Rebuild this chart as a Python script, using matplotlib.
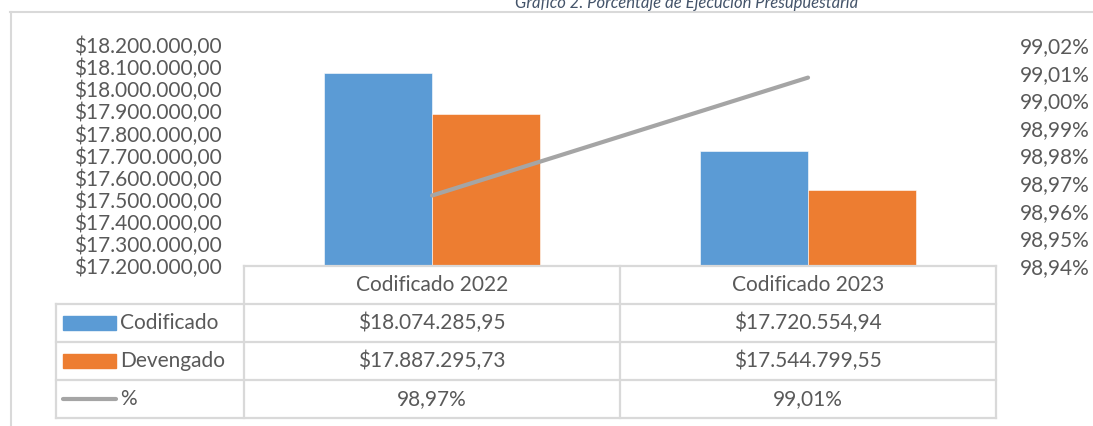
import matplotlib
matplotlib.use("Agg")
import matplotlib.pyplot as plt
import matplotlib.patches as mpatches
import numpy as np

plt.rcParams["font.family"] = ["Lato", "DejaVu Sans"]

# Datos
categorias = ["Codificado 2022", "Codificado 2023"]
codificado = [18074285.95, 17720554.94]
devengado = [17887295.73, 17544799.55]
porcentaje = [98.9655, 99.0082]
series = ["Codificado", "Devengado", "%"]
titulo = "Gráfico 2. Porcentaje de Ejecución Presupuestaria"

# Colores
AZUL = "#5B9BD5"
NARANJA = "#ED7D31"
GRIS = "#A5A5A5"
TEXTO = "#595959"
BORDE = "#D9D9D9"

W, H = 1093, 426
FS = 15


def dinero(v):
    s = f"{v:,.2f}".replace(",", "X").replace(".", ",").replace("X", ".")
    return "$" + s


def pct(v):
    return f"{v:.2f}".replace(".", ",") + "%"


fig = plt.figure(figsize=(W / 100, H / 100), dpi=100)

# area del grafico (en pixeles de la imagen)
x0, x1, y0, y1 = 244, 996, 45, 266
ax = fig.add_axes([x0 / W, 1 - y1 / H, (x1 - x0) / W, (y1 - y0) / H])

x = np.arange(len(categorias))
ancho = 0.287
ax.bar(x - ancho / 2, codificado, ancho, color=AZUL, edgecolor="white", linewidth=0.4)
ax.bar(x + ancho / 2, devengado, ancho, color=NARANJA, edgecolor="white", linewidth=0.4)
ax.set_xlim(-0.5, len(categorias) - 0.5)
ax.set_ylim(17.2e6, 18.2e6)
ax.set_yticks(np.arange(17.2e6, 18.2e6 + 1, 1e5))
ax.set_yticklabels([dinero(v) for v in ax.get_yticks()])
ax.set_xticks([])
ax.tick_params(axis="y", length=0, pad=16, labelsize=FS, labelcolor=TEXTO)
for s in ax.spines.values():
    s.set_visible(False)

ax2 = ax.twinx()
ax2.plot(x, porcentaje, color=GRIS, lw=3.0, solid_capstyle="round")
ax2.set_ylim(98.94, 99.02)
ax2.set_yticks(np.linspace(98.94, 99.02, 9))
ax2.set_yticklabels([pct(v) for v in ax2.get_yticks()])
ax2.tick_params(axis="y", length=0, pad=17, labelsize=FS, labelcolor=TEXTO)
for s in ax2.spines.values():
    s.set_visible(False)

# capa en pixeles para tabla, borde y titulo
tab = fig.add_axes([0, 0, 1, 1])
tab.set_xlim(0, W)
tab.set_ylim(H, 0)
tab.axis("off")

# borde del area del grafico
tab.plot([10.5, 10.5], [12, H], color=BORDE, lw=1.5)
tab.plot([10, W], [12, 12], color=BORDE, lw=1.5)

tab.text(687, 8, titulo, ha="center", va="baseline", fontsize=12,
         style="italic", color="#44546A")

# tabla de datos
xc = [56, 244, 620, 996]
filas = [266, 304, 342, 380, 418]
kw = dict(color=BORDE, lw=1.6, solid_capstyle="projecting")
tab.plot([xc[1], xc[3]], [filas[0], filas[0]], **kw)
for yy in filas[1:]:
    tab.plot([xc[0], xc[3]], [yy, yy], **kw)
tab.plot([xc[0], xc[0]], [filas[1], filas[-1]], **kw)
for xx in xc[1:]:
    tab.plot([xx, xx], [filas[0], filas[-1]], **kw)

centros = [(filas[i] + filas[i + 1]) / 2 for i in range(4)]
for j, cat in enumerate(categorias):
    cx = (xc[j + 1] + xc[j + 2]) / 2
    tab.text(cx, centros[0], cat, ha="center", va="center", fontsize=FS, color=TEXTO)
    tab.text(cx, centros[1], dinero(codificado[j]), ha="center", va="center",
             fontsize=FS, color=TEXTO)
    tab.text(cx, centros[2], dinero(devengado[j]), ha="center", va="center",
             fontsize=FS, color=TEXTO)
    tab.text(cx, centros[3], pct(porcentaje[j]), ha="center", va="center",
             fontsize=FS, color=TEXTO)

# claves de leyenda
tab.add_patch(mpatches.Rectangle((63, centros[1] - 7), 53, 14, color=AZUL))
tab.add_patch(mpatches.Rectangle((63, centros[2] - 7), 53, 14, color=NARANJA))
tab.plot([63, 116], [centros[3], centros[3]], color=GRIS, lw=3.0, solid_capstyle="round")
for i, nombre in enumerate(series):
    tab.text(120, centros[i + 1], nombre, ha="left", va="center", fontsize=FS, color=TEXTO)

fig.savefig("out.png", dpi=100)
